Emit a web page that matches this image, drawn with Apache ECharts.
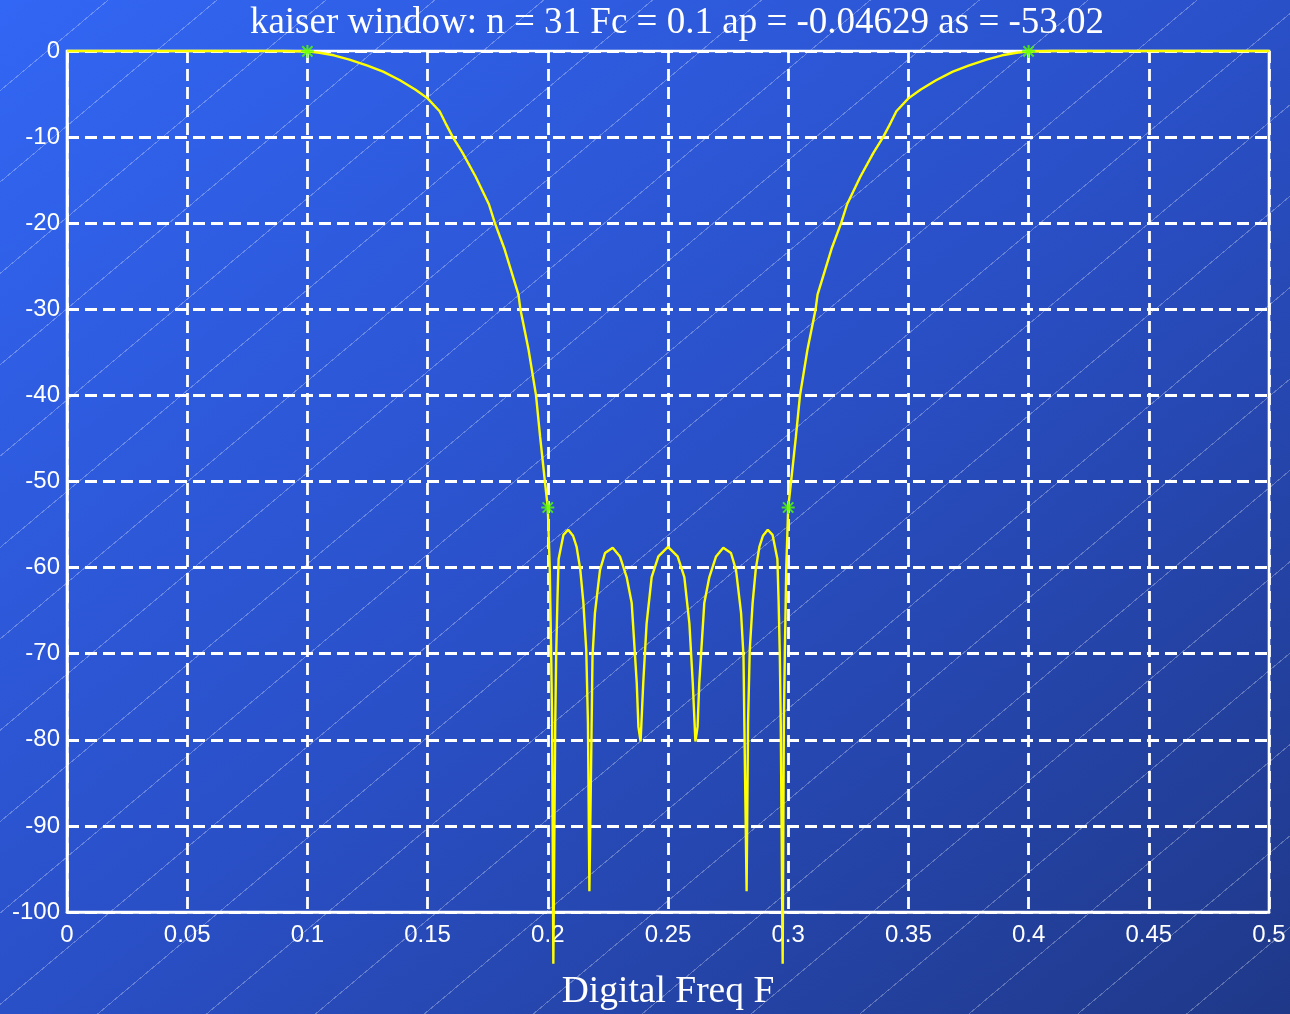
<!DOCTYPE html>
<html>
<head>
<meta charset="utf-8">
<script src="https://cdn.jsdelivr.net/npm/echarts@6/dist/echarts.min.js"></script>
<style>
  html, body { margin: 0; padding: 0; }
  #wrap {
    position: relative;
    width: 1290px; height: 1014px;
    background: linear-gradient(to bottom right, #3266f4 0%, #2a50c8 50%, #1f3888 100%);
    overflow: hidden;
  }
  #stripes {
    position: absolute; left: 0; top: 0; width: 100%; height: 100%;
    background: repeating-linear-gradient(140deg, rgba(255,255,255,0) 0px, rgba(255,255,255,0) 69px, rgba(255,255,255,0.28) 69px, rgba(255,255,255,0.28) 70px);
  }
  #chart { position: absolute; left: 0; top: 0; width: 1290px; height: 1014px; }
</style>
</head>
<body>
<div id="wrap">
  <div id="stripes"></div>
  <div id="chart"></div>
</div>
<script>
// Kaiser-window band-stop FIR: magnitude response in dB vs digital frequency
const freqs = [
  0, 0.05, 0.09, 0.1, 0.105, 0.111, 0.1175, 0.125, 0.1315, 0.1385,
  0.145, 0.15, 0.155, 0.1575, 0.1605, 0.1645, 0.17, 0.1755, 0.178, 0.182, 0.1878,
  0.1886, 0.192, 0.1951, 0.1968, 0.1988, 0.2, 0.2008, 0.2014, 0.2018, 0.2023,
  0.2031, 0.2035, 0.204, 0.2045, 0.2065, 0.2085, 0.2105, 0.212, 0.2135, 0.2148,
  0.216, 0.2167, 0.2173, 0.2181, 0.2186, 0.2196, 0.2217, 0.2238, 0.227, 0.23,
  0.2328, 0.2349, 0.237, 0.2377, 0.2386, 0.2397, 0.2411, 0.2432, 0.246, 0.25,
  0.254, 0.2568, 0.2589, 0.2603, 0.2614, 0.2623, 0.263, 0.2651, 0.2672, 0.27,
  0.273, 0.2762, 0.2783, 0.2804, 0.2814, 0.2819, 0.2827, 0.2833, 0.284, 0.2852,
  0.2865, 0.288, 0.2895, 0.2915, 0.2935, 0.2955, 0.296, 0.2965, 0.2969, 0.2977,
  0.2982, 0.2986, 0.2992, 0.3, 0.3012, 0.3032, 0.3049, 0.308, 0.3114, 0.3122,
  0.318, 0.322, 0.3245, 0.33, 0.3355, 0.3395, 0.3425, 0.345, 0.35, 0.355, 0.3615,
  0.3685, 0.375, 0.3825, 0.389, 0.395, 0.4, 0.41, 0.45, 0.5
];
const magDb = [
  0, 0, 0, -0.05, -0.2, -0.5, -1.0, -1.7, -2.4, -3.4,
  -4.5, -5.5, -7.0, -8.4, -10.0, -11.8, -14.6, -17.8, -20.0, -23.0, -28.3,
  -30.0, -34.7, -40.0, -44.8, -50.0, -53.02, -60, -70, -78, -106,
  -78, -70, -63.8, -59, -56.2, -55.6, -56.3, -57.6, -60.2, -64.1,
  -69.6, -78, -97.6, -81, -70.3, -65.3, -60.3, -58.3, -57.7, -58.7,
  -61.1, -64.1, -73.4, -78.5, -80.2, -73.4, -66.5, -61.1, -58.7, -57.6,
  -58.7, -61.1, -66.5, -73.4, -80.2, -78.5, -73.4, -64.1, -61.1, -58.7,
  -57.7, -58.3, -60.3, -65.3, -70.3, -81, -97.6, -78, -69.6, -64.1,
  -60.2, -57.6, -56.3, -55.6, -56.2, -59, -63.8, -70, -78, -106,
  -78, -70, -60, -53.02, -50.0, -44.8, -40.0, -34.7, -30.0, -28.3,
  -23.0, -20.0, -17.8, -14.6, -11.8, -10.0, -8.4, -7.0, -5.5, -4.5, -3.4,
  -2.4, -1.7, -1.0, -0.5, -0.2, -0.05, 0, 0, 0
];
// Band edges: passband edges at 0.1 / 0.4, stopband edges at 0.2 / 0.3
const edgeFreqs = [0.1, 0.2, 0.3, 0.4];
const edgeDb = [-0.04629, -53.02, -53.02, -0.04629];

const titleText = 'kaiser window: n = 31 Fc = 0.1 ap = -0.04629 as = -53.02';
const xLabelText = 'Digital Freq F';

const curve = freqs.map((f, i) => [f, magDb[i]]);
const edges = edgeFreqs.map((f, i) => [f, edgeDb[i]]);

const asterisk = 'path://M4.2 0L5.8 0L5.8 10L4.2 10Z' +
  'M0 4.2L10 4.2L10 5.8L0 5.8Z' +
  'M0.5 1.6L1.6 0.5L9.5 8.4L8.4 9.5Z' +
  'M8.4 0.5L9.5 1.6L1.6 9.5L0.5 8.4Z';

const chart = echarts.init(document.getElementById('chart'), null, { renderer: 'canvas' });
const labelFont = { color: '#ffffff', fontFamily: 'Liberation Sans, Arial, sans-serif', fontSize: 24 };
chart.setOption({
  backgroundColor: 'transparent',
  animation: false,
  title: [
    {
      text: titleText, left: 672, top: 0, textAlign: 'center',
      textStyle: { color: '#ffffff', fontFamily: 'Liberation Serif, Times New Roman, serif', fontSize: 37, fontWeight: 'normal' }
    },
    {
      text: xLabelText, left: 663, top: 968, textAlign: 'center',
      textStyle: { color: '#ffffff', fontFamily: 'Liberation Serif, Times New Roman, serif', fontSize: 37.5, fontWeight: 'normal' }
    }
  ],
  grid: {
    left: 67, right: 21, top: 51, bottom: 102,
    show: true, borderColor: '#ffffff', borderWidth: 2.6, backgroundColor: 'transparent'
  },
  xAxis: {
    type: 'value', min: 0, max: 0.5, interval: 0.05,
    axisLine: { show: true, onZero: false, lineStyle: { color: '#ffffff', width: 2.6 } },
    axisTick: { show: false },
    axisLabel: Object.assign({ margin: 11 }, labelFont),
    splitLine: { show: true, lineStyle: { color: '#ffffff', width: 2.8, type: [12, 6] } }
  },
  yAxis: {
    type: 'value', min: -100, max: 0, interval: 10,
    axisLine: { show: true, onZero: false, lineStyle: { color: '#ffffff', width: 2.6 } },
    axisTick: { show: false },
    axisLabel: Object.assign({ margin: 7 }, labelFont),
    splitLine: { show: true, lineStyle: { color: '#ffffff', width: 2.8, type: [12, 6] } }
  },
  series: [
    {
      type: 'line', data: curve, showSymbol: false, clip: false, z: 3,
      lineStyle: { color: '#ffff00', width: 2.4 }
    },
    {
      type: 'scatter', data: edges, symbol: asterisk, symbolSize: 13, z: 4,
      itemStyle: { color: '#55ff00' }
    }
  ]
});
</script>
</body>
</html>
